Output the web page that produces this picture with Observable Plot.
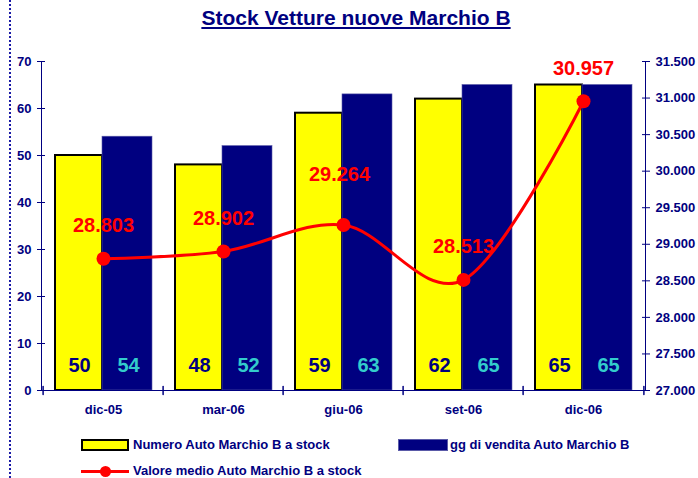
<!DOCTYPE html>
<html><head><meta charset="utf-8">
<script src="https://cdn.jsdelivr.net/npm/d3@7"></script>
<script src="https://cdn.jsdelivr.net/npm/@observablehq/plot@0.6"></script>
<style>
body{margin:0;background:#fff;}
#wrap{position:relative;width:698px;height:478px;overflow:hidden;font-family:"Liberation Sans",Arial,sans-serif;color:#000080;}
#title{position:absolute;top:5px;left:0;width:712px;text-align:center;font-size:21px;font-weight:bold;text-decoration:underline;line-height:26px;}
#dots{position:absolute;left:9px;top:0;height:478px;border-left:2px dotted #1a1aa6;}
#chart{position:absolute;left:0;top:0;}
.legtxt{position:absolute;font-size:13px;font-weight:bold;line-height:16px;white-space:nowrap;}
.box{position:absolute;box-sizing:border-box;}
</style>
</head><body>
<div id="wrap">
  <div id="dots"></div>
  <div id="chart"></div>
  <div id="title"></div>
  <div id="legend"></div>
</div>
<script>
const categories = ["dic-05", "mar-06", "giu-06", "set-06", "dic-06"];
const numeroStock = [50, 48, 59, 62, 65];
const ggVendita = [54, 52, 63, 65, 65];
const valoreMedio = [28803, 28902, 29264, 28513, 30957];
const leftTicks = [0, 10, 20, 30, 40, 50, 60, 70];
const rightTicks = [27000, 27500, 28000, 28500, 29000, 29500, 30000, 30500, 31000, 31500];
const titleText = "Stock Vetture nuove Marchio B";
const seriesNames = ["Numero Auto Marchio B a stock", "gg di vendita Auto Marchio B", "Valore medio Auto Marchio B a stock"];

const NAVY = "#000080", YELLOW = "#FFFF00", RED = "#FF0000", TEAL = "#33CCCC";
const W = 698, H = 420, ML = 41, MR = 53, MT = 61, MB = 30;
const bw = (W - ML - MR) / categories.length;

const itFmt = d3.formatLocale({decimal: ",", thousands: ".", grouping: [3], currency: ["", "€"]}).format(",d");
const yDomain = [0, 70];
const y2Domain = [27000, 31500];
const toLeft = v => (v - y2Domain[0]) / (y2Domain[1] - y2Domain[0]) * (yDomain[1] - yDomain[0]) + yDomain[0];
const fromLeft = u => (u - yDomain[0]) / (yDomain[1] - yDomain[0]) * (y2Domain[1] - y2Domain[0]) + y2Domain[0];

const data = categories.map((c, i) => ({cat: c, numero: numeroStock[i], gg: ggVendita[i], valore: valoreMedio[i]}));
const tickShape = {draw(ctx, l) { ctx.moveTo(0, 0); ctx.lineTo(0, -l); }};

document.getElementById("title").textContent = titleText;

const plot = Plot.plot({
  width: W, height: H,
  marginLeft: ML, marginRight: MR, marginTop: MT, marginBottom: MB,
  style: {color: NAVY, fontFamily: '"Liberation Sans", Arial, sans-serif', fontSize: "13px", fontWeight: "bold", background: "transparent"},
  x: {type: "band", domain: categories, padding: 0, axis: null, label: null},
  y: {domain: yDomain, axis: null, label: null},
  marks: [
    Plot.barY(data, {x: "cat", y: "numero", fill: YELLOW, stroke: "#000", strokeWidth: 2, insetLeft: 12, insetRight: 61}),
    Plot.barY(data, {x: "cat", y: "gg", fill: NAVY, stroke: "#5a5aa8", strokeWidth: 0.6, insetLeft: 59, insetRight: 11}),
    Plot.frame({anchor: "left", stroke: NAVY}),
    Plot.frame({anchor: "right", stroke: NAVY}),
    Plot.ruleY([0], {stroke: NAVY}),
    Plot.axisY(leftTicks, {anchor: "left", tickSize: 8, dx: 4, tickPadding: 6, fontSize: 13, label: null}),
    Plot.axisY(rightTicks.map(toLeft), {anchor: "right", tickSize: 8, dx: -4, tickPadding: 6, fontSize: 13, label: null, tickFormat: d => itFmt(Math.round(fromLeft(d)))}),
    Plot.axisX(categories, {anchor: "bottom", tickSize: 0, tickPadding: 14, fontSize: 13, label: null}),
    Plot.vector(categories, {x: d => d, y: d => 0, length: 8, anchor: "middle", shape: tickShape, dx: -bw / 2, stroke: NAVY}),
    Plot.vector(categories.slice(-1), {x: d => d, y: d => 0, length: 8, anchor: "middle", shape: tickShape, dx: bw / 2, stroke: NAVY}),
    Plot.text(data, {x: "cat", y: d => 0, text: "numero", dx: -24, dy: -25, fill: NAVY, fontSize: 20, fontWeight: "bold"}),
    Plot.text(data, {x: "cat", y: d => 0, text: "gg", dx: 25, dy: -25, fill: TEAL, fontSize: 20, fontWeight: "bold"}),
    Plot.line(data, {x: "cat", y: d => toLeft(d.valore), stroke: RED, strokeWidth: 3, curve: "cardinal"}),
    Plot.dot(data, {x: "cat", y: d => toLeft(d.valore), r: 7, fill: RED}),
    Plot.text(data.filter(d => d.cat !== "giu-06"), {x: "cat", y: d => toLeft(d.valore), text: d => itFmt(d.valore), dy: -33, fill: RED, fontSize: 20, fontWeight: "bold"}),
    Plot.text(data.filter(d => d.cat === "giu-06"), {x: "cat", y: d => toLeft(d.valore), text: d => itFmt(d.valore), dx: -4, dy: -50, fill: RED, fontSize: 20, fontWeight: "bold"})
  ]
});
document.getElementById("chart").appendChild(plot);

// legend
const leg = document.getElementById("legend");
function add(html) { leg.insertAdjacentHTML("beforeend", html); }
add(`<div class="box" style="left:81px;top:439px;width:48px;height:12px;background:${YELLOW};border:2px solid #000"></div>`);
add(`<div class="legtxt" style="left:133px;top:437px">${seriesNames[0]}</div>`);
add(`<div class="box" style="left:398px;top:439px;width:50px;height:12px;background:${NAVY};border:1px solid #5a5aa8"></div>`);
add(`<div class="legtxt" style="left:450px;top:437px">${seriesNames[1]}</div>`);
add(`<div class="box" style="left:81px;top:470px;width:48px;height:3px;background:${RED}"></div>`);
add(`<div class="box" style="left:100px;top:466px;width:11px;height:11px;border-radius:50%;background:${RED}"></div>`);
add(`<div class="legtxt" style="left:133px;top:463px">${seriesNames[2]}</div>`);
</script>
</body></html>
